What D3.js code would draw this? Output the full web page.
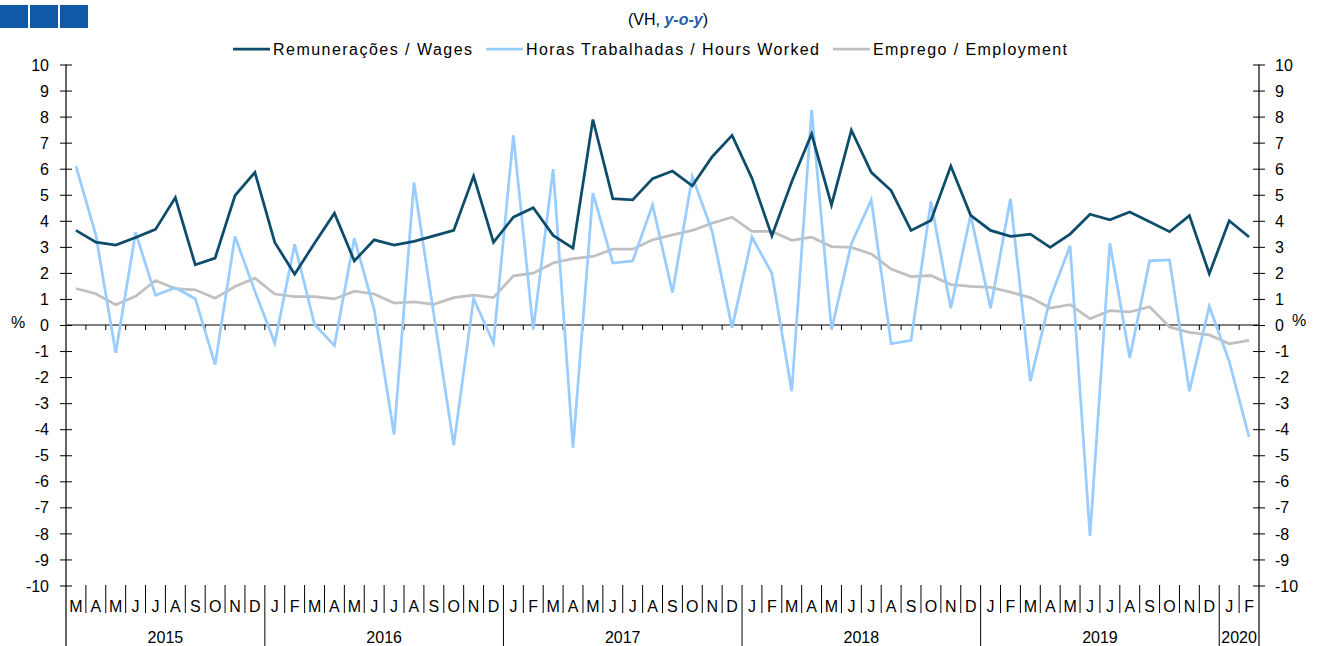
<!DOCTYPE html>
<html><head><meta charset="utf-8">
<script src="https://cdn.jsdelivr.net/npm/d3@7"></script>
<style>
html,body{margin:0;padding:0;background:#fff;}
svg text{font-family:"Liberation Sans",Arial,sans-serif;fill:#000;}
</style></head>
<body><svg id="c" width="1318" height="646"></svg>
<script>
const months = ["M","A","M","J","J","A","S","O","N","D",
  "J","F","M","A","M","J","J","A","S","O","N","D",
  "J","F","M","A","M","J","J","A","S","O","N","D",
  "J","F","M","A","M","J","J","A","S","O","N","D",
  "J","F","M","A","M","J","J","A","S","O","N","D",
  "J","F"];
const yearLabels = ["2015","2016","2017","2018","2019","2020"];
const yearMonthCounts = [10,12,12,12,12,2];
const wages = [3.63,3.18,3.07,3.36,3.67,4.89,2.31,2.57,4.97,5.86,
  3.17,1.95,3.14,4.29,2.46,3.27,3.07,3.21,3.42,3.63,
  5.72,3.17,4.14,4.50,3.44,2.95,7.89,4.85,4.80,5.62,
  5.91,5.34,6.46,7.28,5.63,3.42,5.50,7.33,4.61,7.48,
  5.86,5.16,3.63,4.01,6.10,4.21,3.63,3.40,3.49,2.98,
  3.49,4.25,4.04,4.34,3.96,3.58,4.20,1.97,4.00,3.38];
const hours = [6.10,3.46,-1.07,3.55,1.14,1.43,1.01,-1.52,3.40,1.30,
  -0.69,3.10,0.02,-0.79,3.33,0.59,-4.20,5.47,0.40,-4.62,
  1.01,-0.69,7.28,-0.18,5.98,-4.71,5.06,2.38,2.46,4.61,
  1.25,5.70,3.59,-0.11,3.37,1.99,-2.54,8.25,-0.18,3.12,
  4.80,-0.72,-0.59,4.74,0.64,4.23,0.64,4.85,-2.16,1.03,
  3.04,-8.10,3.14,-1.26,2.46,2.50,-2.54,0.72,-1.39,-4.30];
const employment = [1.40,1.20,0.78,1.10,1.71,1.40,1.35,1.03,1.48,1.80,
  1.19,1.09,1.09,1.00,1.30,1.19,0.84,0.89,0.79,1.05,
  1.15,1.05,1.89,1.99,2.38,2.55,2.63,2.91,2.91,3.27,
  3.46,3.63,3.91,4.14,3.59,3.59,3.25,3.37,3.01,2.98,
  2.73,2.15,1.86,1.90,1.55,1.48,1.44,1.26,1.05,0.65,
  0.78,0.24,0.55,0.50,0.70,-0.08,-0.28,-0.38,-0.72,-0.59];
const yTicks = d3.range(-10, 11);
const seriesNames = ["Remunerações / Wages","Horas Trabalhadas / Hours Worked","Emprego / Employment"];
const seriesColors = ["#0d4d6b","#99ccff","#c0c0c0"];

const svg = d3.select("#c");
const L = 66, R = 1259, T = 64.5, B = 585.5;
const x = d3.scaleBand().domain(d3.range(months.length)).range([L, R]).padding(0);
const bw = x.bandwidth();
const cx = i => x(i) + bw / 2;
const y = d3.scaleLinear().domain([-10, 10]).range([B, T]);
const fmt = d => String(d);

// header squares
[0, 30, 60].forEach(s => svg.append("rect").attr("x", s).attr("y", 5).attr("width", 28).attr("height", 23).attr("fill", "#1059a6"));

// subtitle
const st = svg.append("text").attr("x", 668).attr("y", 25).attr("text-anchor", "middle").style("font-size", "16px");
st.append("tspan").text("(VH, ");
st.append("tspan").text("y-o-y").style("font-style", "italic").style("font-weight", "bold").style("fill", "#1f5fad");
st.append("tspan").text(")");

// legend
const legX = [233, 486, 833], legW = [199, 293, 194];
seriesNames.forEach((n, k) => {
  svg.append("line").attr("x1", legX[k]).attr("x2", legX[k] + 37).attr("y1", 49).attr("y2", 49)
    .attr("stroke", seriesColors[k]).attr("stroke-width", 2.75);
  svg.append("text").attr("x", legX[k] + 40).attr("y", 55).style("font-size", "16px")
    .attr("textLength", legW[k]).attr("lengthAdjust", "spacing").text(n);
});

// axes
const gl = svg.append("g").attr("transform", `translate(${L},0)`)
  .call(d3.axisLeft(y).tickValues(yTicks).tickSize(6).tickFormat(fmt));
const gr = svg.append("g").attr("transform", `translate(${R},0)`)
  .call(d3.axisRight(y).tickValues(yTicks).tickSize(6).tickFormat(fmt));
[gl, gr].forEach((g, k) => {
  g.select(".domain").remove();
  g.selectAll(".tick line").attr("x1", -6).attr("x2", 6).attr("stroke", "#000").attr("stroke-width", 1);
  g.selectAll(".tick text").attr("x", k === 0 ? -17 : 16).attr("dy", "0.35em")
    .style("font-size", "16px").style("font-family", "Liberation Sans, Arial, sans-serif").attr("fill", "#000");
  g.append("line").attr("x1", 0).attr("x2", 0).attr("y1", T).attr("y2", 646).attr("stroke", "#000").attr("stroke-width", 1.2);
});
svg.append("text").attr("x", 11).attr("y", 328).style("font-size", "16px").text("%");
svg.append("text").attr("x", 1292).attr("y", 326).style("font-size", "16px").text("%");

// zero line and small ticks
svg.append("line").attr("x1", L).attr("x2", R).attr("y1", y(0)).attr("y2", y(0)).attr("stroke", "#000").attr("stroke-width", 1.2);
d3.range(1, months.length).forEach(i => {
  svg.append("line").attr("x1", x(i)).attr("x2", x(i)).attr("y1", y(0)).attr("y2", y(0) + 5).attr("stroke", "#000").attr("stroke-width", 1);
});

// category axis
const yearStarts = [];
let acc = 0;
yearMonthCounts.forEach(c => { yearStarts.push(acc); acc += c; });
months.forEach((m, i) => {
  svg.append("text").attr("x", cx(i)).attr("y", 612).attr("text-anchor", "middle").style("font-size", "16px").text(m);
  if (i > 0) {
    const isYear = yearStarts.includes(i);
    svg.append("line").attr("x1", x(i)).attr("x2", x(i)).attr("y1", 585).attr("y2", isYear ? 646 : 613)
      .attr("stroke", "#000").attr("stroke-width", 1);
  }
});
yearLabels.forEach((yl, k) => {
  const s = yearStarts[k], e = s + yearMonthCounts[k];
  const mid = (x(s) + (e < months.length ? x(e) : R)) / 2;
  svg.append("text").attr("x", mid).attr("y", 643).attr("text-anchor", "middle").style("font-size", "16px").text(yl);
});

// lines
const line = d3.line().x((d, i) => cx(i)).y(d => y(d));
[employment, hours, wages].forEach((s, k) => {
  const col = [seriesColors[2], seriesColors[1], seriesColors[0]][k];
  svg.append("path").datum(s).attr("d", line).attr("fill", "none").attr("stroke", col)
    .attr("stroke-width", 2.75).attr("stroke-linejoin", "miter");
});
</script></body></html>
